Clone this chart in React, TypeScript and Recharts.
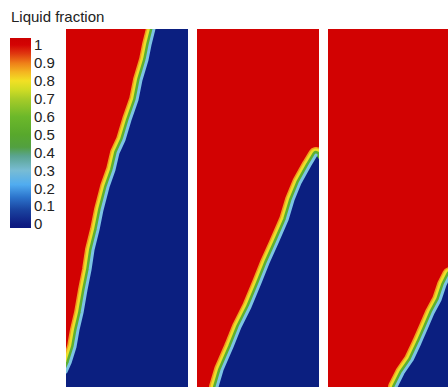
import React from 'react';
import { ComposedChart, Area, XAxis, YAxis, ReferenceArea } from 'recharts';

const FONT = '"Liberation Sans", Arial, sans-serif';
const RED = '#d20202';
const NAVY = '#0b1f80';

const PANEL_W = 122;
const PANEL_H = 358;
const PANEL_TOP = 29;

// melt front per panel: x from panel left, height of the solid (blue) part from the bottom
const panel1X = [0, 4, 9, 12, 16, 20, 24, 27, 32, 36, 42, 48, 52, 58, 64, 71, 75, 81, 84, 88];
const panel1H = [15, 24, 40, 57, 74, 97, 117, 137, 157, 177, 200, 217, 234, 247, 267, 287, 307, 327, 342, 358];
const panel1Corner = [122, 358];

const panel2X = [20, 25, 35, 43, 53, 63, 71, 80, 90, 96, 103, 113, 119];
const panel2H = [0, 17, 40, 60, 80, 104, 124, 144, 167, 187, 204, 222, 232];
const panel2Corner = [122, 228];

const panel3X = [68, 69, 75, 84, 92, 99, 105, 112, 117, 122];
const panel3H = [0, 2, 14, 27, 44, 60, 74, 87, 102, 112];

// colour bar
const CBAR_MIN = -0.022;
const CBAR_MAX = 1.039;
const cbarTicks = [0, 0.1, 0.2, 0.3, 0.4, 0.5, 0.6, 0.7, 0.8, 0.9, 1];
const cbarStopValues = [1.039, 1.0, 0.95, 0.9, 0.85, 0.8, 0.75, 0.7, 0.6, 0.5, 0.43, 0.38, 0.3, 0.22, 0.15, 0.08, 0.0, -0.022];
const cbarStopColors = ['#cc0000', '#d40404', '#e03a10', '#ee7e18', '#f4b420', '#f2e024', '#d0dc24', '#a8cc28', '#6cb82a', '#58a82c', '#52a040', '#5aa490', '#78bcd4', '#50acf0', '#2c74cc', '#1a44a0', '#0e1c82', '#0c1880'];

function Panel({ xs, hs, corner, left }: { xs: number[]; hs: number[]; corner?: number[]; left: number }) {
  const rows: { x: number; blue: number; edge: number | null }[] = xs.map((x, i) => ({ x, blue: hs[i], edge: hs[i] }));
  if (corner) rows.push({ x: corner[0], blue: corner[1], edge: null });

  // band strokes drawn as unfilled areas so they stay in the same layer as the solid area
  const band = (color: string, w: number) => (
    <Area
      type="linear"
      dataKey="edge"
      fill="none"
      stroke={color}
      strokeWidth={w}
      strokeLinejoin="round"
      strokeLinecap="round"
      activeDot={false}
      isAnimationActive={false}
    />
  );

  return (
    <div style={{ position: 'absolute', left, top: PANEL_TOP, width: PANEL_W, height: PANEL_H, background: RED }}>
      <ComposedChart width={PANEL_W} height={PANEL_H} data={rows} margin={{ top: 0, right: 0, bottom: 0, left: 0 }}>
        <XAxis type="number" dataKey="x" domain={[0, PANEL_W]} allowDataOverflow hide />
        <YAxis type="number" domain={[0, PANEL_H]} allowDataOverflow hide />
        {band('#f29c1e', 16)}
        {band('#ecdf2a', 13)}
        {band('#5cb032', 8)}
        <Area
          type="linear"
          dataKey="blue"
          fill={NAVY}
          fillOpacity={1}
          stroke="none"
          isAnimationActive={false}
          activeDot={false}
        />
        {band('#7cc4e4', 3)}
      </ComposedChart>
    </div>
  );
}

function ColorBar() {
  const span = CBAR_MAX - CBAR_MIN;
  return (
    <div style={{ position: 'absolute', left: 0, top: 0 }}>
      <ComposedChart width={75} height={240} data={[{ x: 0 }, { x: 1 }]} margin={{ top: 38, right: 0, bottom: 12, left: 10 }}>
        <defs>
          <linearGradient id="cbar" x1="0" y1="0" x2="0" y2="1">
            {cbarStopValues.map((v, i) => (
              <stop key={i} offset={`${((CBAR_MAX - v) / span) * 100}%`} stopColor={cbarStopColors[i]} />
            ))}
          </linearGradient>
        </defs>
        <XAxis type="number" dataKey="x" domain={[0, 1]} hide />
        <YAxis
          type="number"
          orientation="right"
          width={44}
          domain={[CBAR_MIN, CBAR_MAX]}
          allowDataOverflow
          ticks={cbarTicks}
          interval={0}
          axisLine={false}
          tickLine={false}
          tickSize={0}
          tickMargin={3}
          tickFormatter={(v: number) => (v === 0 || v === 1 ? String(v) : v.toFixed(1))}
          tick={{ fill: '#222', fontSize: 15, fontFamily: FONT }}
        />
        <ReferenceArea y1={CBAR_MIN} y2={CBAR_MAX} fill="url(#cbar)" fillOpacity={1} stroke="none" ifOverflow="visible" />
      </ComposedChart>
    </div>
  );
}

export default function App() {
  return (
    <div style={{ position: 'fixed', left: 0, top: 0, width: 448, height: 387, overflow: 'hidden', background: '#fff', fontFamily: FONT }}>
      <div style={{ position: 'absolute', left: 11, top: 8, fontSize: 15, lineHeight: '17px', color: '#222', whiteSpace: 'nowrap' }}>
        Liquid fraction
      </div>
      <ColorBar />
      <Panel xs={panel1X} hs={panel1H} corner={panel1Corner} left={66} />
      <Panel xs={panel2X} hs={panel2H} corner={panel2Corner} left={197} />
      <Panel xs={panel3X} hs={panel3H} left={328} />
    </div>
  );
}
